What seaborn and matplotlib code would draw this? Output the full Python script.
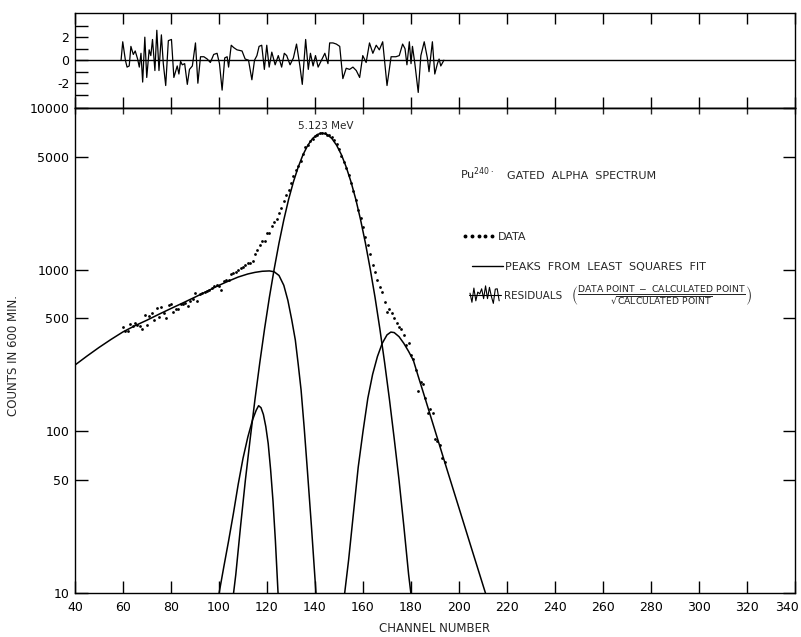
import numpy as np
import pandas as pd
import matplotlib
matplotlib.use('Agg')
import matplotlib.pyplot as plt
import seaborn as sns
from matplotlib.lines import Line2D
from matplotlib.legend_handler import HandlerBase
from matplotlib.ticker import FixedLocator, NullLocator
from matplotlib.transforms import ScaledTranslation

# ---- data ----
# measured counts, one per channel
data_ch = list(range(60, 195))
data_counts = [444, 419, 415, 458, 450, 465, 457, 450, 429, 522,
               453, 514, 543, 491, 579, 507, 588, 539, 503, 605,
               617, 548, 574, 574, 611, 614, 626, 592, 636, 654,
               717, 637, 708, 720, 729, 739, 743, 772, 788, 804,
               792, 752, 850, 869, 858, 938, 951, 970, 993, 1018,
               1040, 1063, 1099, 1107, 1134, 1250, 1326, 1425, 1500, 1500,
               1676, 1690, 1872, 1983, 2050, 2250, 2400, 2650, 2900, 3120,
               3450, 3780, 4150, 4400, 4700, 5214, 5735, 5868, 6277, 6460,
               6743, 6810, 6960, 7025, 7010, 6835, 6823, 6600, 6318, 5987,
               5609, 5068, 4610, 4264, 3850, 3455, 3080, 2713, 2346, 2087,
               1847, 1582, 1417, 1252, 1075, 973, 861, 785, 732, 628,
               546, 570, 538, 505, 470, 443, 432, 395, 343, 354,
               297, 279, 240, 178, 203, 197, 161, 129, 137, 130,
               89, 87, 82, 68, 65]

# fitted peaks (least squares fit components)
tail_ch = [40, 45, 50, 55, 60, 65, 70, 75, 80, 85, 90, 95, 100, 104, 108, 112,
           115, 118, 121, 123, 125, 127, 128.7, 130.3, 131.8, 133, 134.2,
           135.5, 136.8, 138.5, 140.4, 141]
tail_counts = [257, 292, 330, 370, 412, 450, 487, 530, 575, 623, 676, 735, 800,
               850, 900, 940, 962, 977, 982, 970, 920, 800, 645, 490, 367, 260,
               180, 105, 58, 26, 10, 8]

small_ch = [99.5, 102, 104, 106, 108, 110, 112, 114, 115.5, 116.5, 117.5, 118.5,
            119.5, 120.5, 121.5, 122.5, 123.5, 124.6, 125]
small_counts = [9, 14.5, 21, 31, 47, 68, 92, 118, 135, 144, 140, 127, 107, 84,
                58, 37, 21, 10, 8.5]

main_ch = [105.5, 107, 109, 111, 113, 115, 117, 119, 121, 123, 125, 127, 129,
           131, 133, 135, 137, 139, 141, 143, 145, 147, 149, 151, 153, 155,
           157, 159, 161, 163, 165, 167, 169, 171, 173, 175, 177, 179, 180.5]
main_counts = [8.5, 13, 26, 50, 90, 158, 266, 432, 675, 1010, 1460, 2030, 2720,
               3490, 4310, 5140, 5880, 6480, 6860, 7000, 6860, 6480, 5880, 5140,
               4310, 3490, 2720, 2030, 1460, 1010, 675, 432, 266, 158, 90, 50,
               26, 13, 8.5]

right_ch = [152, 154, 156, 158, 160, 162, 164, 166, 168, 170, 171.6, 173, 175,
            177, 179, 181, 183, 185, 187, 190, 195, 200, 205, 211, 212]
right_counts = [9, 16, 31, 60, 100, 160, 225, 290, 350, 395, 411, 408, 385, 350,
                312, 274, 219, 176, 141, 101, 58, 33.5, 19.3, 10, 9]

# residuals (data - calc) / sqrt(calc)
resid_ch = [59.2, 59.9, 61.0, 61.7, 62.6, 63.3, 64.3, 65.1, 66.1, 66.8,
            67.5, 68.2, 69.1, 69.9, 70.9, 71.6, 72.3, 73.3, 74.1, 75.0,
            76.0, 76.8, 77.8, 78.9, 80.2, 81.2, 82.6, 83.3, 84.0, 84.7,
            85.7, 86.8, 87.7, 88.9, 90.2, 91.2, 92.3, 93.7, 95.1, 96.4,
            97.8, 99.2, 100.2, 101.3, 102.4, 103.4, 104.0, 105.1, 106.1, 107.5,
            109.6, 110.9, 112.3, 113.7, 114.8, 115.8, 116.7, 117.8, 118.9, 119.9,
            120.9, 122.0, 123.4, 124.7, 126.1, 127.2, 128.2, 129.6, 131.0, 132.3,
            133.7, 134.7, 136.1, 137.2, 138.1, 139.2, 140.2, 141.3, 142.7, 144.1,
            145.4, 146.1, 147.5, 148.9, 150.3, 151.6, 153.0, 154.4, 155.8, 157.2,
            158.6, 159.9, 161.3, 162.7, 164.1, 165.5, 166.8, 168.2, 170.0, 171.7,
            173.7, 175.1, 176.5, 177.5, 178.3, 179.3, 180.0, 180.6, 181.6, 183.0,
            184.1, 185.5, 186.8, 187.5, 188.9, 189.9, 191.0, 191.7, 192.4, 193.7]
resid_val = [0.0, 1.6, 0.0, -0.6, -0.5, 1.2, 0.5, 0.8, 0.1, -0.6,
             0.6, -1.9, 2.0, -1.5, 0.9, 0.4, 1.8, -0.9, 2.6, -0.9,
             2.2, -0.3, -2.2, 1.7, 1.8, -1.5, -0.5, -1.2, -0.1, -0.4,
             -0.3, -2.1, -0.8, -0.5, 1.5, -2.0, 0.3, 0.3, 0.1, -0.2,
             0.5, 0.6, -0.3, -2.6, 0.2, 0.3, -0.6, 1.3, 1.1, 0.9,
             0.8, 0.1, 0.0, -1.7, 0.0, 0.4, 1.2, 1.3, -0.8, 1.3,
             -0.6, 0.7, -0.4, 0.4, -0.6, 0.6, 0.4, -0.4, 0.2, 1.4,
             -0.5, -2.1, 1.8, -0.8, 0.6, -0.5, 0.4, -0.6, 0.0, 0.6,
             -0.3, 1.5, 1.5, 1.4, 1.2, -1.6, -0.7, -0.8, -0.6, -0.9,
             -1.5, 0.4, -0.2, 1.5, 0.6, 1.3, 0.9, 1.6, -2.2, 0.3,
             0.3, 0.4, 1.4, 1.0, -0.4, 1.6, -0.3, 1.2, -0.3, -2.8,
             0.4, 1.6, 0.2, -1.0, 1.6, -1.2, -0.3, 0.1, -0.5, 0.0]

x_ticks = list(range(40, 341, 20))
y_ticks = [10, 50, 100, 500, 1000, 5000, 10000]
y_ticklabels = ['10', '50', '100', '500', '1000', '5000', '10000']
r_ticks = [-2, 0, 2]
r_minor = [-3, -1, 1, 3]

fits = pd.concat([
    pd.DataFrame({'ch': tail_ch, 'counts': tail_counts, 'peak': 'tail'}),
    pd.DataFrame({'ch': small_ch, 'counts': small_counts, 'peak': 'small'}),
    pd.DataFrame({'ch': main_ch, 'counts': main_counts, 'peak': 'main'}),
    pd.DataFrame({'ch': right_ch, 'counts': right_counts, 'peak': 'right'}),
])

# ---- style ----
sns.set_theme(style='ticks')
plt.rcParams['font.family'] = ['DejaVu Sans']
plt.rcParams['axes.unicode_minus'] = False
plt.rcParams['mathtext.fontset'] = 'dejavusans'
plt.rcParams['axes.edgecolor'] = 'black'
plt.rcParams['axes.linewidth'] = 1.0

fig = plt.figure(figsize=(8.01, 6.37), dpi=100)
ax_r = fig.add_axes([0.0936, 0.8305, 0.899, 0.1491])
ax = fig.add_axes([0.0936, 0.0691, 0.899, 0.7614], sharex=ax_r)

# residual panel
ax_r.axhline(0, color='black', lw=1.0)
sns.lineplot(x=resid_ch, y=resid_val, ax=ax_r, color='black', lw=0.9,
             estimator=None, sort=False)
ax_r.set_ylim(-4.15, 4.1)
ax_r.set_yticks(r_ticks)
ax_r.set_yticklabels(['-2', '0', '2'])
ax_r.yaxis.set_minor_locator(FixedLocator(r_minor))
ax_r.tick_params(axis='y', which='both', direction='in', length=9, width=1,
                 labelsize=9, pad=4, colors='black')
ax_r.tick_params(axis='x', which='major', direction='in', length=8, width=1,
                 top=True, bottom=True, labelbottom=False, colors='black')
ax_r.set_xlabel('')
ax_r.set_ylabel('')

# main panel
ax.set_yscale('log')
sns.lineplot(data=fits, x='ch', y='counts', units='peak', estimator=None,
             color='black', lw=1.1, ax=ax)
sns.scatterplot(x=data_ch, y=data_counts, ax=ax, color='black', s=4,
                linewidth=0, marker='o')
ax.set_xlim(40, 340)
ax.set_ylim(10, 10000)
ax.set_xticks(x_ticks)
ax.set_xticklabels([str(t) for t in x_ticks])
ax.yaxis.set_major_locator(FixedLocator(y_ticks))
ax.set_yticklabels(y_ticklabels)
ax.yaxis.set_minor_locator(NullLocator())
ax.tick_params(axis='x', which='major', direction='in', length=9, width=1,
               labelsize=9, pad=6, colors='black')
ax.tick_params(axis='y', which='major', direction='in', length=9, width=1,
               right=True, labelsize=9, pad=4, colors='black')
# keep the last channel label inside the picture
last = ax.get_xticklabels()[-1]
last.set_transform(last.get_transform()
                   + ScaledTranslation(-6 / 72, 0, fig.dpi_scale_trans))
sec = ax.secondary_xaxis('top')
sec.set_xticks(x_ticks)
sec.tick_params(axis='x', direction='in', length=4, width=1,
                labeltop=False, labelbottom=False)

ax.set_xlabel('CHANNEL NUMBER', fontsize=8.5)
ax.xaxis.set_label_coords(0.5, -0.06)
ax.set_ylabel('COUNTS IN 600 MIN.', fontsize=8.5)
ax.yaxis.set_label_coords(-0.076, 0.49)

ax.text(144.5, 7730, '5.123 MeV', fontsize=7.5, ha='center', va='center')

fig.text(460 / 801, 1 - 179 / 637, r'Pu$^{240\cdot}$', fontsize=8, va='baseline')
fig.text(507 / 801, 1 - 179 / 637, 'GATED  ALPHA  SPECTRUM', fontsize=8,
         va='baseline')


# legend key for the residual trace: a miniature of the measured residuals
class ResidualKey(HandlerBase):
    def __init__(self, values):
        super().__init__()
        self.values = np.asarray(values, dtype=float)

    def create_artists(self, legend, orig_handle, xdescent, ydescent,
                       width, height, fontsize, trans):
        n = len(self.values)
        xs = -xdescent + width * np.arange(n) / (n - 1)
        mid = height / 2 - ydescent
        ys = mid + self.values / np.abs(self.values).max() * height * 1.3
        wig = Line2D(xs, ys, color='black', lw=0.8, transform=trans)
        base = Line2D([xs[0] - 1, xs[-1] + 1], [mid, mid], color='black',
                      lw=0.8, transform=trans)
        return [wig, base]


h_data = Line2D([], [], ls='none', marker='o', ms=1.8, color='black')
h_fit = Line2D([], [], color='black', lw=1.0)
h_res = Line2D([], [], color='black')

fig.legend(handles=[h_data], labels=['DATA'], loc='center left',
           bbox_to_anchor=(462 / 801, 1 - 237 / 637), frameon=False,
           fontsize=8, numpoints=5, handlelength=3.0, handletextpad=0.2,
           borderpad=0, borderaxespad=0)
fig.legend(handles=[h_fit], labels=['PEAKS  FROM  LEAST  SQUARES  FIT'],
           loc='center left', bbox_to_anchor=(472 / 801, 1 - 267 / 637),
           frameon=False, fontsize=8, handlelength=2.8, handletextpad=0.2,
           borderpad=0, borderaxespad=0)
fig.legend(handles=[h_res], labels=['RESIDUALS'], loc='center left',
           bbox_to_anchor=(470 / 801, 1 - 296 / 637), frameon=False,
           fontsize=7.5, handlelength=2.8, handletextpad=0.45, borderpad=0,
           borderaxespad=0, handler_map={h_res: ResidualKey(resid_val[10:26])})
frac = (r'$\left(\frac{\mathrm{DATA\ POINT\ -\ CALCULATED\ POINT}}'
        r'{\sqrt{\mathrm{CALCULATED\ POINT}}}\right)$')
fig.text(571 / 801, 1 - 296 / 637, frac, fontsize=9.5, ha='left', va='center')

fig.savefig('out.png', dpi=100)
